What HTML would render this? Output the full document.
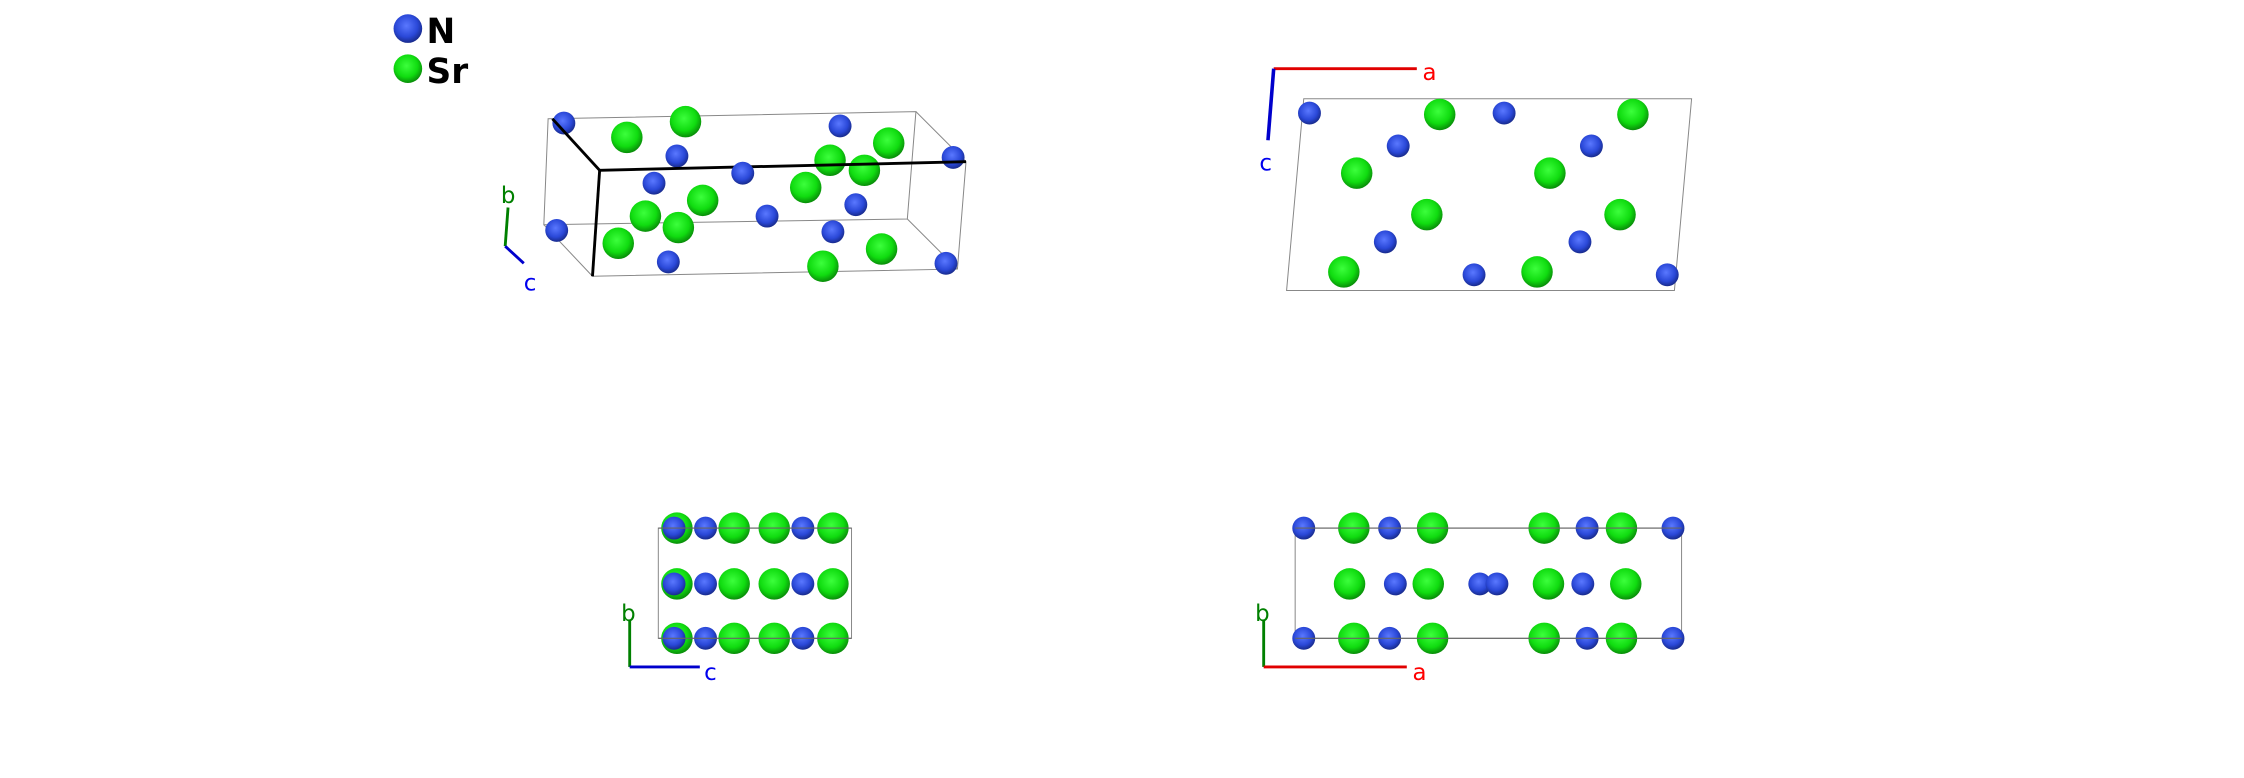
<!DOCTYPE html>
<html><head><meta charset="utf-8"><style>html,body{margin:0;padding:0;background:#fff;}svg{display:block}</style></head>
<body>
<svg width="2244" height="778" viewBox="0 0 1568 543.6" preserveAspectRatio="none" xmlns="http://www.w3.org/2000/svg" font-family="'DejaVu Sans','Liberation Sans',sans-serif">
<defs>
<radialGradient id="gN" cx="0.45" cy="0.4" r="0.65"><stop offset="0" stop-color="#5a78ff"/><stop offset="0.6" stop-color="#2a48d8"/><stop offset="1" stop-color="#14247a"/></radialGradient>
<radialGradient id="gS" cx="0.45" cy="0.4" r="0.65"><stop offset="0" stop-color="#3cff3c"/><stop offset="0.6" stop-color="#10dc10"/><stop offset="1" stop-color="#087a08"/></radialGradient>
<symbol id="N" overflow="visible"><circle r="8" fill="url(#gN)"/></symbol>
<symbol id="S" overflow="visible"><circle r="11" fill="url(#gS)"/></symbol>
</defs>
<!-- legend -->
<circle cx="285" cy="20" r="10" fill="url(#gN)"/>
<circle cx="285" cy="48" r="10" fill="url(#gS)"/>
<text x="298" y="30" font-size="24" font-weight="bold">N</text>
<text x="298" y="58" font-size="24" font-weight="bold">Sr</text>

<!-- panel 1 -->
<g stroke="#888" stroke-width="0.7" fill="none">
<polygon points="383,83 640,78 634,153 380,157"/>
<polygon points="419,119 675,113 669,188 414,193"/>
<line x1="640" y1="78" x2="675" y2="113"/><line x1="634" y1="153" x2="669" y2="188"/><line x1="380" y1="157" x2="414" y2="193"/>
</g>
<g fill="none">
<use href="#N" x="394" y="86"/><use href="#S" x="438" y="96"/><use href="#S" x="479" y="85"/>
<use href="#N" x="587" y="88"/><use href="#N" x="473" y="109"/><use href="#S" x="621" y="100"/>
<use href="#S" x="580" y="112"/><use href="#S" x="604" y="119"/><use href="#N" x="666" y="110"/>
</g>
<g stroke="#000" stroke-width="2" fill="none"><line x1="386" y1="83" x2="419" y2="119"/><line x1="419" y1="119" x2="675" y2="113"/><line x1="419" y1="119" x2="414" y2="193"/></g>
<use href="#N" x="457" y="128"/><use href="#N" x="519" y="121"/><use href="#S" x="491" y="140"/><use href="#S" x="563" y="131"/>
<use href="#S" x="451" y="151"/><use href="#S" x="474" y="159"/><use href="#S" x="432" y="170"/>
<use href="#N" x="389" y="161"/><use href="#N" x="536" y="151"/><use href="#N" x="598" y="143"/><use href="#N" x="582" y="162"/>
<use href="#N" x="467" y="183"/><use href="#N" x="661" y="184"/><use href="#S" x="575" y="186"/><use href="#S" x="616" y="174"/>
<line x1="355" y1="145" x2="353" y2="172" stroke="#008000" stroke-width="2"/>
<line x1="353" y1="172" x2="366" y2="184" stroke="#0000cc" stroke-width="2"/>
<text x="350" y="142" font-size="16" fill="#008000">b</text>
<text x="366" y="203" font-size="16" fill="#0000ee">c</text>

<!-- panel 2 -->
<polygon points="911,69 1182,69 1170,203 899,203" fill="none" stroke="#888" stroke-width="0.7"/>
<line x1="890" y1="48" x2="990" y2="48" stroke="#e00000" stroke-width="2"/>
<line x1="890" y1="48" x2="886" y2="98" stroke="#0000cc" stroke-width="2.5"/>
<text x="994" y="56" font-size="16" fill="#ff0000">a</text>
<text x="880" y="119" font-size="16" fill="#0000ee">c</text>
<use href="#N" x="915" y="79"/><use href="#N" x="1051" y="79"/><use href="#N" x="977" y="102"/><use href="#N" x="1112" y="102"/>
<use href="#N" x="968" y="169"/><use href="#N" x="1104" y="169"/><use href="#N" x="1030" y="192"/><use href="#N" x="1165" y="192"/>
<use href="#S" x="1006" y="80"/><use href="#S" x="1141" y="80"/><use href="#S" x="948" y="121"/><use href="#S" x="1083" y="121"/>
<use href="#S" x="997" y="150"/><use href="#S" x="1132" y="150"/><use href="#S" x="939" y="190"/><use href="#S" x="1074" y="190"/>

<!-- panel 3 -->
<rect x="460" y="369" width="135" height="77" fill="none" stroke="#888" stroke-width="0.7"/>
<g id="row3">
<use href="#S" x="473" y="369"/><use href="#N" x="471" y="369"/><use href="#N" x="493" y="369"/><use href="#S" x="513" y="369"/>
<use href="#S" x="541" y="369"/><use href="#N" x="561" y="369"/><use href="#S" x="582" y="369"/>
</g>
<use href="#row3" y="39"/><use href="#row3" y="77"/>
<line x1="460" y1="369" x2="595" y2="369" stroke="#666" stroke-width="0.8"/>
<line x1="460" y1="446" x2="595" y2="446" stroke="#666" stroke-width="0.8"/>
<line x1="440" y1="433" x2="440" y2="466" stroke="#008000" stroke-width="2"/>
<line x1="440" y1="466" x2="489" y2="466" stroke="#0000cc" stroke-width="2"/>
<text x="434" y="434" font-size="16" fill="#008000">b</text>
<text x="492" y="475" font-size="16" fill="#0000ee">c</text>

<!-- panel 4 -->
<rect x="905" y="369" width="270" height="77" fill="none" stroke="#888" stroke-width="0.7"/>
<g id="row4">
<use href="#N" x="911" y="369"/><use href="#S" x="946" y="369"/><use href="#N" x="971" y="369"/><use href="#S" x="1001" y="369"/>
<use href="#S" x="1079" y="369"/><use href="#N" x="1109" y="369"/><use href="#S" x="1133" y="369"/><use href="#N" x="1169" y="369"/>
</g>
<use href="#row4" y="77"/>
<use href="#S" x="943" y="408"/><use href="#N" x="975" y="408"/><use href="#S" x="998" y="408"/><use href="#N" x="1034" y="408"/>
<use href="#N" x="1046" y="408"/><use href="#S" x="1082" y="408"/><use href="#N" x="1106" y="408"/><use href="#S" x="1136" y="408"/>
<line x1="905" y1="369" x2="1175" y2="369" stroke="#666" stroke-width="0.8"/>
<line x1="905" y1="446" x2="1175" y2="446" stroke="#666" stroke-width="0.8"/>
<line x1="883" y1="433" x2="883" y2="466" stroke="#008000" stroke-width="2"/>
<line x1="883" y1="466" x2="983" y2="466" stroke="#e00000" stroke-width="2"/>
<text x="877" y="434" font-size="16" fill="#008000">b</text>
<text x="987" y="475" font-size="16" fill="#ff0000">a</text>
</svg>
</body></html>
